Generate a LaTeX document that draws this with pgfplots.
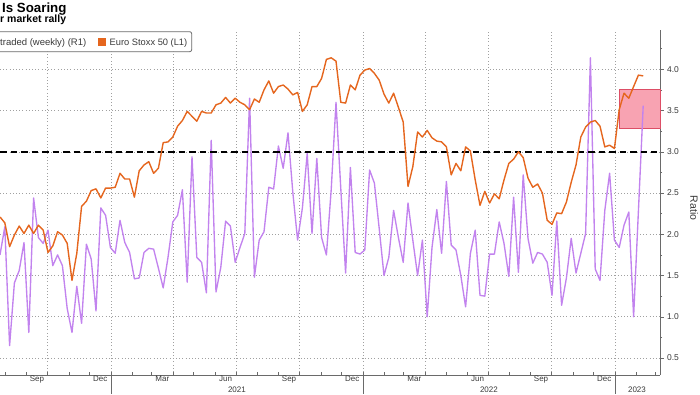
\documentclass[border=0pt]{standalone}
\usepackage{fontspec}
\setmainfont{Liberation Sans}
\usepackage{pgfplots}
\pgfplotsset{compat=1.18}
\usepackage{pgfplotstable}

\definecolor{bbOrange}{HTML}{E5661E}
\definecolor{bbPurple}{HTML}{C283EE}
\definecolor{gridgray}{HTML}{A0A0A0}
\definecolor{axgray}{HTML}{6A6A6A}
\definecolor{labgray}{HTML}{3A3A3A}
\definecolor{boxpink}{HTML}{F8A3B2}
\definecolor{boxred}{HTML}{DD4E66}

% k = week index (weekly observations, Jul 2020 - Feb 2023)
% ratio = put/call ratio traded (weekly), R1 ; stoxx = Euro Stoxx 50, L1
\pgfplotstableread{
k ratio stoxx
0 1.75 3399
1 2.09 3362
2 0.65 3210
3 1.41 3284
4 1.56 3341
5 1.90 3294
6 0.81 3347
7 2.44 3294
8 1.96 3347
9 1.89 3315
10 2.05 3173
11 1.62 3215
12 1.75 3305
13 1.62 3284
14 1.10 3231
15 0.81 2995
16 1.37 3168
17 0.92 3467
18 1.88 3499
19 1.70 3567
20 1.07 3578
21 2.32 3520
22 2.23 3583
23 1.84 3583
24 1.77 3588
25 2.17 3677
26 1.90 3641
27 1.78 3641
28 1.46 3525
29 1.47 3693
30 1.78 3730
31 1.83 3751
32 1.82 3677
33 1.59 3709
34 1.35 3872
35 1.72 3877
36 2.15 3908
37 2.23 3977
38 2.54 4013
39 1.42 4071
40 2.94 4040
41 1.72 4008
42 1.66 4071
43 1.29 4061
44 3.14 4061
45 1.30 4113
46 1.60 4124
47 2.16 4160
48 2.10 4124
49 1.66 4155
50 1.84 4129
51 2.01 4113
52 3.65 4082
53 1.48 4150
54 1.93 4129
55 2.03 4208
56 2.57 4265
57 2.55 4187
58 3.07 4229
59 2.80 4239
60 3.23 4213
61 2.51 4176
62 1.93 4192
63 2.32 4071
64 2.98 4113
65 2.01 4229
66 2.92 4229
67 1.96 4281
68 1.75 4402
69 2.54 4412
70 3.60 4391
71 2.55 4129
72 1.53 4124
73 2.81 4239
74 1.78 4208
75 1.76 4302
76 1.81 4334
77 2.78 4344
78 2.62 4313
79 2.07 4270
80 1.50 4181
81 1.72 4124
82 2.29 4187
83 1.96 4097
84 1.66 4003
85 2.38 3593
86 1.93 3719
87 1.50 3940
88 1.93 3908
89 1.00 3950
90 1.84 3903
91 2.30 3882
92 1.77 3877
93 2.64 3845
94 1.87 3667
95 1.81 3740
96 1.50 3693
97 1.12 3845
98 1.77 3819
99 2.05 3635
100 1.26 3473
101 1.25 3562
102 1.76 3488
103 1.76 3546
104 2.15 3515
105 1.89 3635
106 1.49 3740
107 2.45 3767
108 1.54 3814
109 2.72 3777
110 1.95 3646
111 1.65 3588
112 1.78 3609
113 1.76 3551
114 1.66 3378
115 1.26 3352
116 2.16 3425
117 1.14 3420
118 1.47 3494
119 1.95 3620
120 1.53 3730
121 1.77 3908
122 2.01 3971
123 4.14 4003
124 1.58 4013
125 1.44 3977
126 2.29 3845
127 2.74 3856
128 1.93 3835
129 1.84 4082
130 2.11 4187
131 2.27 4155
132 1.00 4229
133 2.28 4302
134 3.56 4297
}\weekly

\begin{document}
\begin{tikzpicture}
\useasboundingbox (0pt,0pt) rectangle (700pt,394pt);
\clip (0pt,0pt) rectangle (700pt,394pt);

% ---------- ratio axis (right, R1) ----------
\begin{axis}[
  at={(0pt,19pt)}, anchor=south west,
  scale only axis, width=660pt, height=345pt,
  xmin=0, xmax=137.5, ymin=0.294, ymax=4.477,
  clip=false,
  axis x line*=bottom, axis y line*=right,
  axis line style={axgray, line width=0.7pt, -},
  tick align=outside,
  major tick length=3.5pt, minor tick length=2.2pt,
  every tick/.style={axgray, line width=0.5pt},
  /pgf/number format/assume math mode=true,
  xtick={1.09,5.55,9.87,14.33,18.64,23.1,27.56,31.59,36.05,40.36,44.82,49.14,53.60,58.06,62.37,66.83,71.15,75.61,80.06,84.09,88.55,92.87,97.33,101.64,106.10,110.56,114.88,119.34,123.65,128.11,132.57,136.60},
  xticklabels={},
  x tick style={yshift=3.5pt},
  minor xtick={9.87,23.1,36.05,49.14,62.37,75.61,88.55,101.64,114.88,128.11},
  xmajorgrids=false, xminorgrids=true,
  extra x ticks={7.71,20.87,33.82,46.98,60.22,73.38,86.32,99.49,112.72,125.88},
  extra x tick labels={Sep,Dec,Mar,Jun,Sep,Dec,Mar,Jun,Sep,Dec},
  extra x tick style={grid=none, major tick length=0pt,
     tick style={draw=none},
     tick label style={font=\fontsize{8}{9}\selectfont, text=labgray, inner sep=1.2pt}},
  ytick={0.5,1.0,1.5,2.0,2.5,3.0,3.5,4.0},
  minor ytick={0.75,1.25,1.75,2.25,2.75,3.25,3.75,4.25},
  ymajorgrids=true,
  yticklabel style={font=\fontsize{8.5}{10}\selectfont, text=labgray,
     /pgf/number format/fixed, /pgf/number format/fixed zerofill,
     /pgf/number format/precision=1},
  major grid style={gridgray, line width=0.6pt, dash pattern=on 0.8pt off 2.4pt},
  minor grid style={gridgray, line width=0.6pt, dash pattern=on 0.8pt off 2.4pt},
]
  \draw[fill=boxpink, draw=boxred, line width=0.6pt]
     (axis cs:128.96,3.29) rectangle (axis cs:137.5,3.76);
  \addplot[bbPurple, line width=1.35pt, line join=round] table[x=k, y=ratio]{\weekly};
  \addplot[black, line width=1.8pt, dash pattern=on 6.5pt off 4pt] coordinates {(0,3) (136.8,3)};
  % year separators and labels
  \draw[axgray, line width=0.5pt] (axis cs:23.1,0.294) -- ++(0pt,-19pt);
  \draw[axgray, line width=0.5pt] (axis cs:75.61,0.294) -- ++(0pt,-19pt);
  \draw[axgray, line width=0.5pt] (axis cs:128.11,0.294) -- ++(0pt,-19pt);
  \node[font=\fontsize{8}{9}\selectfont, text=labgray] at (axis cs:49.36,0.294) [yshift=-15pt] {2021};
  \node[font=\fontsize{8}{9}\selectfont, text=labgray] at (axis cs:101.86,0.294) [yshift=-15pt] {2022};
  \node[font=\fontsize{8}{9}\selectfont, text=labgray] at (axis cs:132.7,0.294) [yshift=-15pt] {2023};
\end{axis}

% ---------- Euro Stoxx 50 axis (left, L1; cropped off) ----------
\begin{axis}[
  at={(0pt,19pt)}, anchor=south west,
  scale only axis, width=660pt, height=345pt,
  xmin=0, xmax=137.5, ymin=2393.1, ymax=4589.2,
  hide axis,
]
  \addplot[bbOrange, line width=1.4pt, line join=round] table[x=k, y=stoxx]{\weekly};
\end{axis}

% ---------- titles ----------
\node[anchor=base west, inner sep=0pt, font=\bfseries\fontsize{13.3}{15}\selectfont] at (2pt,381.5pt) {Is Soaring};
\node[anchor=base west, inner sep=0pt, font=\bfseries\fontsize{10.5}{12}\selectfont] at (0pt,371.5pt) {r market rally};

% ---------- legend ----------
\draw[fill=white, draw=axgray, line width=0.8pt, rounded corners=2pt] (-20pt,342.3pt) rectangle (191.7pt,362.3pt);
\node[anchor=base west, inner sep=0pt, font=\fontsize{9.5}{11}\selectfont, text=labgray] at (0pt,348.5pt) {traded (weekly) (R1)};
\fill[bbOrange] (97.7pt,348.3pt) rectangle (106pt,356.3pt);
\node[anchor=base west, inner sep=0pt, font=\fontsize{9.3}{11}\selectfont, text=labgray] at (109.5pt,348.5pt) {Euro Stoxx 50 (L1)};

% ---------- right axis title ----------
\node[rotate=-90, font=\fontsize{10.5}{12}\selectfont, text=labgray] at (694pt,186pt) {Ratio};
\end{tikzpicture}
\end{document}
